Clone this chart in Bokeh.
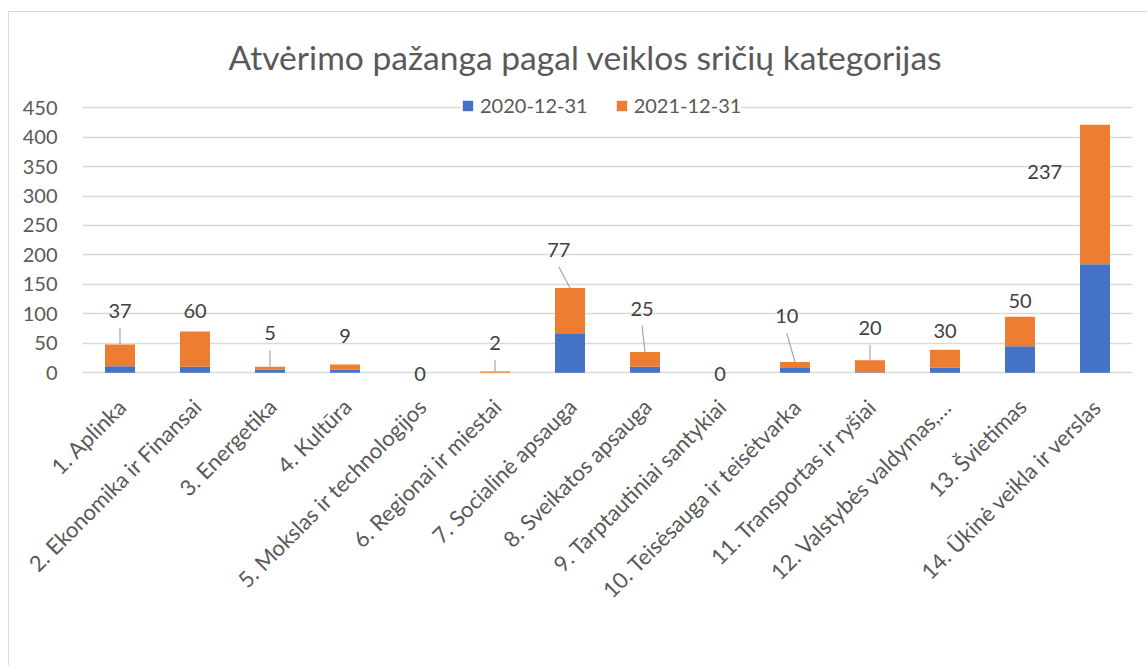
import math
from bokeh.plotting import figure
from bokeh.models import (ColumnDataSource, Range1d, Legend, LegendItem,
                          FixedTicker, LinearAxis)
from bokeh.core.properties import value
from bokeh.embed import file_html
from bokeh.resources import INLINE

# ---------------- data ----------------
categories = ["1. Aplinka", "2. Ekonomika ir Finansai", "3. Energetika", "4. Kultūra",
              "5. Mokslas ir technologijos", "6. Regionai ir miestai", "7. Socialinė apsauga",
              "8. Sveikatos apsauga", "9. Tarptautiniai santykiai",
              "10. Teisėsauga ir teisėtvarka", "11. Transportas ir ryšiai",
              "12. Valstybės valdymas,…", "13. Švietimas", "14. Ūkinė veikla ir verslas"]
series_names = ["2020-12-31", "2021-12-31"]
values_2020 = [11, 10, 5, 5, 0, 0, 67, 10, 0, 8, 1, 9, 45, 184]
values_2021 = [37, 60, 5, 9, 0, 2, 77, 25, 0, 10, 20, 30, 50, 237]
y_ticks = [0, 50, 100, 150, 200, 250, 300, 350, 400, 450]
title_text = "Atvėrimo pažanga pagal veiklos sričių kategorijas"

# data label placement as in the source chart (offsets from the stack top)
label_dy = [57, 35, 57, 49, -2, 49, 65, 74, -2, 78, 55, 32, 27, -80]
label_dx = [0, 0, 0, 0, 0, 0, -0.15, -0.04, 0, -0.11, 0, 0, 0, -0.67]
has_leader = [1, 0, 1, 0, 0, 1, 1, 1, 0, 1, 1, 0, 0, 0]

# ---------------- styles ----------------
BLUE = "#4472C4"
ORANGE = "#ED7D31"
TXT = "#595959"
GRID = "#D9D9D9"
FONT = "Lato"
CAT_LABEL_SHIFT = 0.03   # rotated category labels sit very slightly right of the bar centre

n = len(categories)
xpos = [i + 0.5 for i in range(n)]   # slot centre of each category
src = ColumnDataSource(data={
    "x": xpos,
    "cat": categories,
    series_names[0]: values_2020,
    series_names[1]: values_2021,
})

p = figure(x_range=Range1d(0, n), y_range=Range1d(-20, 475.8),
           width=1139, height=654, output_backend="svg", toolbar_location=None,
           min_border_left=73, min_border_right=16, min_border_top=80,
           min_border_bottom=282)
p.margin = (11, 0, 0, 8)
p.styles = {"border-top": "1px solid #D9D9D9", "border-left": "1.5px solid #D9D9D9"}

renderers = p.vbar_stack(series_names, x="x", width=0.4, source=src,
                         color=[BLUE, ORANGE], line_color=None)

# data labels (value of the 2021 increment)
totals = [a + b for a, b in zip(values_2020, values_2021)]
lx = [x + dx for x, dx in zip(xpos, label_dx)]
ly = [t + dy for t, dy in zip(totals, label_dy)]
lab_src = ColumnDataSource(data={"x": lx, "y": ly, "t": [str(v) for v in values_2021]})
p.text(x="x", y="y", text="t", source=lab_src, text_align="center",
       text_baseline="middle", text_font=value(FONT), text_font_size="20px",
       text_color="#404040")

# leader lines
seg = {"x0": [], "y0": [], "x1": [], "y1": []}
for i, flag in enumerate(has_leader):
    if flag:
        seg["x0"].append(lx[i]); seg["y0"].append(ly[i] - 29)
        seg["x1"].append(xpos[i]); seg["y1"].append(totals[i])
p.segment(x0="x0", y0="y0", x1="x1", y1="y1", source=ColumnDataSource(seg),
          line_color="#A6A6A6", line_width=1.2)

# title
p.title.text = title_text
p.title.align = "left"
p.title.offset = 146
p.title.text_font = FONT
p.title.text_font_size = "33.6px"
p.title.text_font_style = "normal"
p.title.text_color = TXT
p.title.standoff = 32

# legend
legend = Legend(items=[LegendItem(label=series_names[0], renderers=[renderers[0]]),
                       LegendItem(label=series_names[1], renderers=[renderers[1]])],
                orientation="horizontal", location=(379, 267),
                glyph_width=13, glyph_height=13, label_standoff=6, spacing=27,
                padding=0, margin=0, border_line_color=None,
                background_fill_color="white", background_fill_alpha=1,
                label_text_font=FONT, label_text_font_size="20px",
                label_text_color=TXT, label_height=20)
p.add_layout(legend, "center")

# y axis
p.yaxis.ticker = FixedTicker(ticks=y_ticks)
p.yaxis.axis_line_color = None
p.yaxis.major_tick_line_color = None
p.yaxis.minor_tick_line_color = None
p.yaxis.major_label_standoff = 19
p.yaxis.major_label_text_font = FONT
p.yaxis.major_label_text_font_size = "20px"
p.yaxis.major_label_text_color = TXT

# category labels: an axis on a range offset so that tick k sits at bar k
p.xaxis.visible = False
p.extra_x_ranges = {"lbl": Range1d(0.5 - CAT_LABEL_SHIFT, n + 0.5 - CAT_LABEL_SHIFT)}
cat_ticks = list(range(1, n + 1))
cat_axis = LinearAxis(x_range_name="lbl", ticker=FixedTicker(ticks=cat_ticks),
                      major_label_overrides={t: c for t, c in zip(cat_ticks, categories)})
cat_axis.axis_line_color = None
cat_axis.major_tick_line_color = None
cat_axis.minor_tick_line_color = None
cat_axis.major_label_orientation = math.pi / 4
cat_axis.major_label_standoff = 12
cat_axis.major_label_text_font = FONT
cat_axis.major_label_text_font_size = "22px"
cat_axis.major_label_text_color = TXT
p.add_layout(cat_axis, "below")

p.xgrid.grid_line_color = None
p.ygrid.grid_line_color = GRID
p.ygrid.grid_line_width = 1.5
p.outline_line_color = None

open("out.html", "w").write(file_html(p, INLINE))
